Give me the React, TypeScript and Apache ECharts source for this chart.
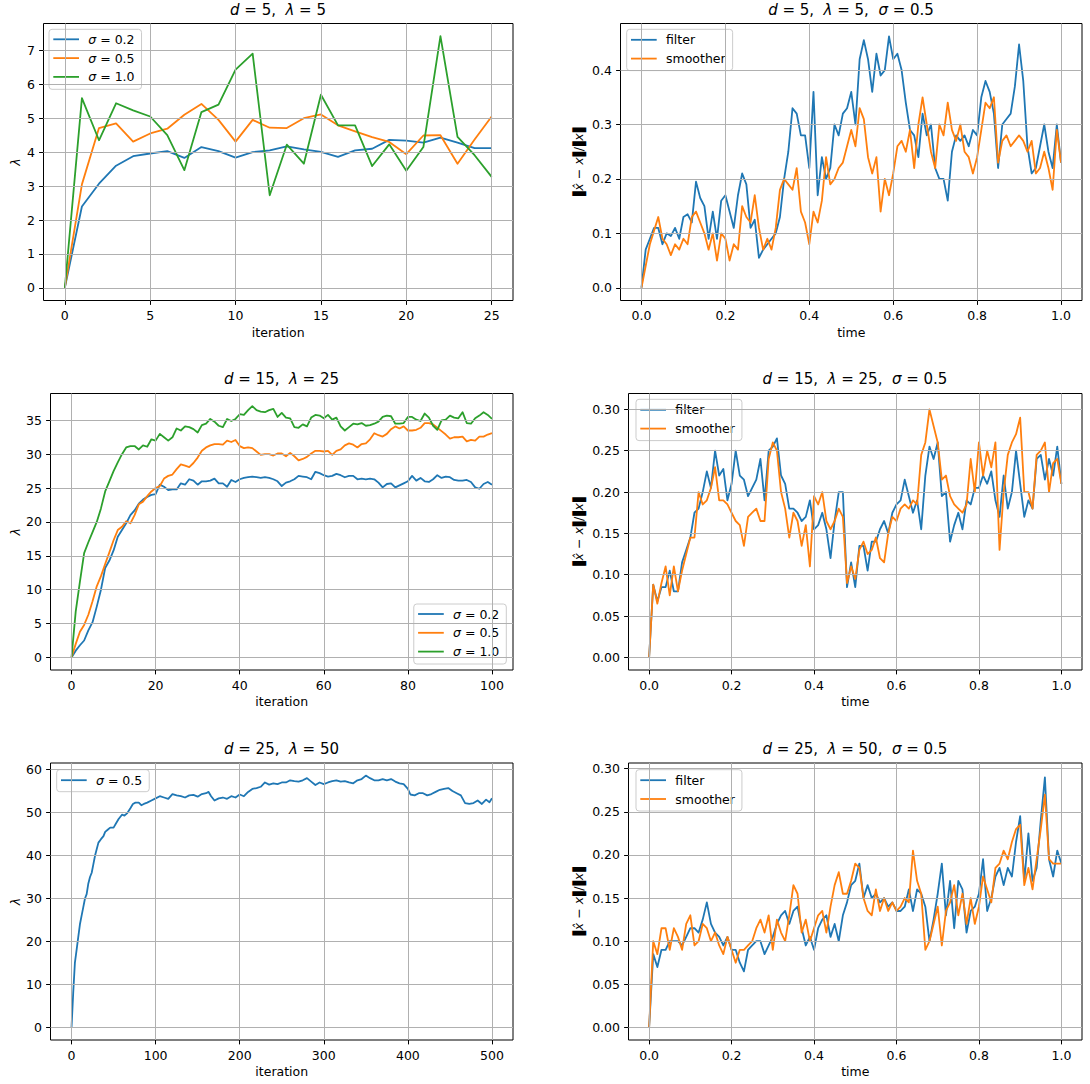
import React, { useEffect, useRef } from "react";
import * as echarts from "echarts";

// ---------------- data ----------------
// Panel: d = 5, lambda = 5 (iterations 0..25)
const ITER_A = [0, 1, 2, 3, 4, 5, 6, 7, 8, 9, 10, 11, 12, 13, 14, 15, 16, 17, 18, 19, 20, 21, 22, 23, 24, 25];
const LAM_A_S02 = [0, 2.4, 3.07, 3.6, 3.88, 3.96, 4.03, 3.83, 4.15, 4.03, 3.84, 4.0, 4.05, 4.17, 4.08, 4.01, 3.86, 4.05, 4.1, 4.36, 4.34, 4.28, 4.43, 4.28, 4.12, 4.12];
const LAM_A_S05 = [0, 3.05, 4.71, 4.85, 4.31, 4.55, 4.69, 5.1, 5.42, 4.95, 4.31, 4.95, 4.72, 4.71, 5.0, 5.11, 4.79, 4.61, 4.44, 4.3, 3.94, 4.49, 4.5, 3.66, 4.37, 5.05];
const LAM_A_S10 = [0, 5.59, 4.35, 5.44, 5.23, 5.05, 4.5, 3.47, 5.18, 5.4, 6.43, 6.9, 2.73, 4.22, 3.66, 5.69, 4.79, 4.79, 3.59, 4.23, 3.45, 4.15, 7.42, 4.45, 3.91, 3.27];

// Panel: d = 15, lambda = 25 (iterations 0..100)
const ITER_B = Array.from({ length: 101 }, (_, i) => i);
const LAM_B_S02 = [
  0, 1, 1.8, 2.5, 4, 5.2, 7.5, 10, 13.2, 14.3,
  15.8, 17.8, 18.8, 19.8, 21, 21.7, 22.7, 23.3, 23.7, 24.0,
  24.1, 25.5, 25.2, 24.7, 24.8, 24.8, 25.7, 25.5, 26.3, 26.1,
  25.5, 26.0, 26.0, 26.1, 26.4, 25.7, 25.7, 25.2, 26.2, 25.9,
  26.3, 26.5, 26.6, 26.7, 26.6, 26.5, 26.6, 26.5, 26.3, 26.0,
  25.3, 25.8, 26.0, 26.3, 26.8, 26.7, 26.6, 26.3, 27.4, 27.2,
  26.9, 26.7, 26.8, 27.1, 26.9, 26.6, 26.8, 26.8, 26.3, 26.4,
  26.3, 26.4, 26.3, 25.8, 25.1, 25.6, 25.7, 25.1, 25.4, 25.7,
  26.0, 26.8, 26.1, 26.5, 26.0, 25.9, 26.3, 26.9, 26.5, 26.7,
  26.6, 26.2, 26.1, 26.1, 26.2, 25.9, 25.1, 24.9, 25.6, 25.9,
  25.5,
];
const LAM_B_S05 = [
  0, 2, 3.8, 4.8, 6.3, 8.3, 10.5, 12, 13.8, 15.5,
  17.3, 18.8, 19.3, 20.1, 19.8, 21.0, 22.6, 23.0, 23.8, 24.5,
  25.0, 25.3, 26.4, 26.8, 27.0, 27.8, 28.5, 28.3, 28.1, 28.7,
  29.5, 30.5, 31.0, 31.3, 31.5, 31.5, 31.4, 32.0, 31.8, 32.1,
  31.2, 30.9, 31.0, 30.9, 30.4, 29.9, 30.0, 30.0, 29.8, 30.1,
  30.1, 29.7, 30.2, 29.7, 29.1, 29.3, 29.6, 30.1, 30.5, 30.5,
  30.4, 30.5, 29.9, 30.5, 30.7, 31.3, 31.6, 31.4, 31.0, 31.5,
  31.6, 32.2, 33.1, 32.8, 32.6, 33.0, 33.7, 34.1, 33.8, 34.1,
  33.5, 33.5, 33.6, 33.9, 34.6, 34.6, 34.4, 33.9, 33.4, 32.9,
  32.3, 32.5, 32.5, 32.6, 31.9, 32.1, 32.0, 32.6, 32.6, 32.9,
  33.1,
];
const LAM_B_S10 = [
  0, 6.8, 11.2, 15.4, 17, 18.5, 20, 22, 24.5, 26,
  27.5, 28.8, 30, 31, 31.2, 31.2, 30.7, 31.3, 31.1, 32.2,
  32.0, 33.0, 32.5, 32.0, 32.5, 33.8, 33.5, 34.1, 34.0, 33.7,
  33.2, 34.3, 34.5, 35.2, 34.8, 34.2, 34.0, 35.2, 34.9, 35.2,
  35.9, 35.8, 36.5, 37.1, 36.5, 36.3, 36.2, 36.5, 36.7, 35.5,
  36.1, 35.4, 35.3, 34.0, 33.9, 34.4, 34.1, 35.4, 35.8, 35.7,
  35.3, 35.8, 35.1, 35.4, 34.1, 33.5, 34.0, 34.5, 34.4, 34.6,
  34.2, 34.3, 34.5, 34.8, 35.5, 35.7, 35.6, 34.5, 34.5, 34.6,
  35.5, 35.5, 35.1, 34.9, 36.0, 35.4, 34.2, 33.6, 35.0, 35.1,
  35.7, 35.4, 35.3, 36.2, 34.6, 34.5, 35.3, 35.7, 36.2, 35.8,
  35.2,
];

// Panel: d = 25, lambda = 50 (iterations 0..500, read at irregular steps)
const ITER_C = [
  0, 2, 4, 6, 8, 10, 12, 14, 16, 18, 20, 22, 24, 26, 28, 30, 32, 35, 38, 40, 43, 46, 50, 53, 56, 60, 63, 66, 70, 73, 76, 80, 83, 86, 90, 95,
  100, 105, 110, 115, 120, 125, 130, 135, 140, 145, 150, 155, 160, 163, 166, 170, 175, 180, 185, 190, 195,
  200, 205, 210, 215, 220, 225, 230, 235, 240, 245, 250, 255, 260, 265, 270, 275, 280, 285, 290, 295,
  300, 305, 310, 315, 320, 325, 330, 335, 340, 345, 350, 355, 360, 365, 370, 375, 380, 385, 390, 395,
  400, 403, 408, 413, 418, 423, 428, 433, 438, 443, 448, 453, 458, 463, 468, 473, 478, 483, 488, 493, 497, 500,
];
const LAM_C_S05 = [
  0, 8, 15, 18, 21, 24, 26, 28, 30, 31, 33.5, 35, 36, 38, 40, 41.5, 43, 43.8, 44.5, 45.5, 46, 46.5, 46.5, 47.5, 48.5, 49.5, 49.3, 49.8, 51, 52, 52.3, 52.3, 51.7, 52, 52.3, 52.8,
  53.3, 53.8, 53.5, 53.2, 54.3, 54, 53.8, 53.5, 54, 54.1, 53.7, 54.3, 54.5, 54.8, 53.8, 52.8, 53.3, 53.5, 53.2, 53.8, 53.5,
  54.2, 53.8, 54.8, 55.5, 55.7, 56, 57, 56.5, 56.8, 56.6, 57, 57, 57.5, 57.3, 57.2, 57.5, 58, 57.2, 56.4, 57,
  56.6, 57, 57.3, 57.5, 57.2, 57.3, 57, 56.8, 57.5, 57.8, 58.6, 58, 57.5, 57.5, 57.8, 57.5, 57.8, 57.2, 56.8, 56.6,
  55.5, 54.2, 54, 54.5, 54.5, 54, 54.3, 54.8, 55.3, 55.5, 55.7, 55, 54.5, 54, 52.2, 52, 52.2, 52.8, 52, 53, 52.4, 53.3,
];

// Relative error panels, time 0..1 read every 0.01
const TIME = Array.from({ length: 101 }, (_, i) => i / 100);
const FILTER_A = [
  0, 0.07, 0.09, 0.11, 0.11, 0.08, 0.1, 0.095, 0.11, 0.09,
  0.13, 0.135, 0.12, 0.195, 0.165, 0.15, 0.09, 0.14, 0.09, 0.16,
  0.17, 0.14, 0.11, 0.17, 0.21, 0.19, 0.11, 0.125, 0.055, 0.07,
  0.08, 0.09, 0.1, 0.13, 0.2, 0.25, 0.33, 0.32, 0.28, 0.28,
  0.22, 0.36, 0.17, 0.24, 0.2, 0.22, 0.3, 0.28, 0.32, 0.33,
  0.36, 0.3, 0.42, 0.455, 0.42, 0.36, 0.43, 0.39, 0.4, 0.462,
  0.42, 0.43, 0.4, 0.34, 0.29, 0.28, 0.24, 0.32, 0.28, 0.3,
  0.22, 0.2, 0.2, 0.16, 0.25, 0.28, 0.27, 0.28, 0.26, 0.29,
  0.28, 0.35, 0.38, 0.36, 0.32, 0.22, 0.3, 0.31, 0.32, 0.37,
  0.447, 0.38, 0.26, 0.21, 0.22, 0.26, 0.3, 0.25, 0.22, 0.3,
  0.23,
];
const SMOOTHER_A = [
  0, 0.04, 0.08, 0.105, 0.13, 0.09, 0.08, 0.06, 0.08, 0.07,
  0.09, 0.08, 0.13, 0.14, 0.12, 0.1, 0.07, 0.1, 0.05, 0.1,
  0.09, 0.05, 0.08, 0.07, 0.15, 0.13, 0.12, 0.17, 0.11, 0.07,
  0.09, 0.07, 0.11, 0.18, 0.2, 0.19, 0.18, 0.22, 0.14, 0.12,
  0.08, 0.14, 0.12, 0.16, 0.24, 0.19, 0.2, 0.22, 0.23, 0.26,
  0.29, 0.26, 0.33, 0.31, 0.24, 0.21, 0.24, 0.14, 0.2, 0.17,
  0.21, 0.26, 0.27, 0.25, 0.29, 0.22, 0.3, 0.35, 0.3, 0.25,
  0.22, 0.3, 0.28, 0.34, 0.29, 0.27, 0.3, 0.25, 0.24, 0.21,
  0.24, 0.29, 0.34, 0.33, 0.35, 0.23, 0.27, 0.28, 0.26, 0.27,
  0.28, 0.27, 0.25, 0.27, 0.21, 0.22, 0.25, 0.22, 0.18, 0.29,
  0.23,
];
const FILTER_B = [
  0, 0.088, 0.068, 0.085, 0.085, 0.105, 0.08, 0.08, 0.115, 0.13,
  0.145, 0.175, 0.18, 0.2, 0.225, 0.205, 0.25, 0.22, 0.228, 0.19,
  0.21, 0.25, 0.22, 0.215, 0.195, 0.205, 0.215, 0.24, 0.19, 0.25,
  0.255, 0.265, 0.22, 0.21, 0.18, 0.18, 0.175, 0.165, 0.17, 0.19,
  0.155, 0.16, 0.175, 0.155, 0.12, 0.165, 0.2, 0.2, 0.085, 0.115,
  0.085, 0.135, 0.135, 0.105, 0.14, 0.14, 0.155, 0.165, 0.15, 0.175,
  0.185, 0.19, 0.215, 0.195, 0.175, 0.19, 0.155, 0.22, 0.255, 0.24,
  0.26, 0.195, 0.2, 0.14, 0.16, 0.175, 0.155, 0.19, 0.185, 0.205,
  0.205, 0.22, 0.21, 0.225, 0.19, 0.17, 0.22, 0.18, 0.2, 0.25,
  0.21, 0.17, 0.19, 0.18, 0.24, 0.245, 0.215, 0.24, 0.22, 0.255,
  0.21,
];
const SMOOTHER_B = [
  0, 0.088, 0.065, 0.09, 0.11, 0.075, 0.11, 0.08, 0.105, 0.125,
  0.145, 0.145, 0.2, 0.185, 0.19, 0.205, 0.23, 0.19, 0.19, 0.185,
  0.175, 0.165, 0.16, 0.135, 0.17, 0.175, 0.18, 0.165, 0.165, 0.24,
  0.26, 0.25, 0.2, 0.18, 0.145, 0.175, 0.165, 0.135, 0.16, 0.11,
  0.195, 0.185, 0.2, 0.165, 0.155, 0.165, 0.18, 0.17, 0.09, 0.11,
  0.095, 0.13, 0.14, 0.125, 0.13, 0.145, 0.12, 0.115, 0.15, 0.17,
  0.165, 0.18, 0.185, 0.18, 0.19, 0.185, 0.245, 0.26, 0.3, 0.28,
  0.26, 0.215, 0.22, 0.195, 0.185, 0.18, 0.175, 0.185, 0.24, 0.2,
  0.26, 0.22, 0.25, 0.23, 0.26, 0.13, 0.2, 0.245, 0.26, 0.27,
  0.29, 0.2, 0.2, 0.18, 0.245, 0.25, 0.26, 0.2, 0.235, 0.24,
  0.21,
];
const FILTER_C = [
  0, 0.085, 0.07, 0.09, 0.09, 0.1, 0.1, 0.1, 0.095, 0.105,
  0.115, 0.115, 0.11, 0.125, 0.145, 0.12, 0.11, 0.105, 0.095, 0.105,
  0.09, 0.09, 0.075, 0.065, 0.09, 0.095, 0.1, 0.1, 0.085, 0.095,
  0.105, 0.12, 0.13, 0.135, 0.12, 0.135, 0.14, 0.115, 0.095, 0.105,
  0.09, 0.115, 0.125, 0.13, 0.105, 0.12, 0.1, 0.13, 0.145, 0.165,
  0.17, 0.19, 0.15, 0.165, 0.15, 0.155, 0.145, 0.15, 0.14, 0.145,
  0.135, 0.135, 0.14, 0.16, 0.135, 0.16, 0.155, 0.14, 0.1, 0.125,
  0.155, 0.19, 0.13, 0.17, 0.115, 0.17, 0.16, 0.11, 0.135, 0.14,
  0.155, 0.195, 0.135, 0.15, 0.175, 0.185, 0.165, 0.185, 0.175, 0.215,
  0.245, 0.17, 0.225, 0.17, 0.185, 0.24, 0.29, 0.195, 0.175, 0.205,
  0.19,
];
const SMOOTHER_C = [
  0, 0.1, 0.085, 0.115, 0.115, 0.09, 0.115, 0.105, 0.09, 0.12,
  0.13, 0.095, 0.1, 0.12, 0.115, 0.1, 0.11, 0.095, 0.085, 0.105,
  0.09, 0.075, 0.09, 0.09, 0.095, 0.1, 0.115, 0.125, 0.11, 0.13,
  0.09, 0.125, 0.11, 0.1, 0.13, 0.165, 0.155, 0.11, 0.125, 0.1,
  0.115, 0.13, 0.135, 0.11, 0.14, 0.165, 0.18, 0.155, 0.155, 0.17,
  0.19, 0.185, 0.15, 0.135, 0.13, 0.16, 0.135, 0.15, 0.135, 0.145,
  0.135, 0.14, 0.15, 0.145, 0.205, 0.17, 0.155, 0.09, 0.1, 0.12,
  0.14, 0.095, 0.135, 0.145, 0.165, 0.13, 0.155, 0.12, 0.15, 0.12,
  0.14, 0.175, 0.16, 0.145, 0.185, 0.19, 0.205, 0.195, 0.215, 0.23,
  0.235, 0.165, 0.185, 0.16, 0.195, 0.23, 0.27, 0.195, 0.19, 0.19,
  0.19,
];

// tick values
const TICKS_X_A = [0, 5, 10, 15, 20, 25];
const TICKS_Y_A = [0, 1, 2, 3, 4, 5, 6, 7];
const TICKS_X_B = [0, 20, 40, 60, 80, 100];
const TICKS_Y_B = [0, 5, 10, 15, 20, 25, 30, 35];
const TICKS_X_C = [0, 100, 200, 300, 400, 500];
const TICKS_Y_C = [0, 10, 20, 30, 40, 50, 60];
const TICKS_TIME = [0, 0.2, 0.4, 0.6, 0.8, 1.0];
const TICKS_ERR_A = [0, 0.1, 0.2, 0.3, 0.4];
const TICKS_ERR_BC = [0, 0.05, 0.1, 0.15, 0.2, 0.25, 0.3];

// ---------------- styling ----------------
const FONT = "DejaVu Sans";
const TXT = "#000000";
const BLUE = "#1f77b4";
const ORANGE = "#ff7f0e";
const GREEN = "#2ca02c";
const FS = 12.5;

function rich(size: number) {
  return {
    i: { fontStyle: "italic", fontSize: size, fontFamily: FONT, color: TXT, fill: TXT },
    b: {
      fontWeight: "bold",
      fontSize: size,
      fontFamily: FONT,
      color: TXT,
      fill: TXT,
      textBorderColor: TXT,
      textBorderWidth: 1.4,
    },
  };
}

const LABELS: Record<string, string> = {
  "a02": "{i|σ} = 0.2",
  "a05": "{i|σ} = 0.5",
  "a10": "{i|σ} = 1.0",
  "b02": "{i|σ} = 0.2",
  "b05": "{i|σ} = 0.5",
  "b10": "{i|σ} = 1.0",
  "c05": "{i|σ} = 0.5",
  "fa": "filter",
  "sa": "smoother",
  "fb": "filter",
  "sb": "smoother",
  "fc": "filter",
  "sc": "smoother",
};

const GRIDS = [
  { left: 43.5, top: 23.5, width: 469.5, height: 277 },
  { left: 620.5, top: 23.5, width: 461.5, height: 277 },
  { left: 50.5, top: 393.5, width: 462.5, height: 276.5 },
  { left: 628.5, top: 393.5, width: 453.5, height: 276.5 },
  { left: 50.5, top: 763, width: 462.5, height: 277 },
  { left: 628.5, top: 763, width: 453.5, height: 277 },
];

function xAxis(idx: number, min: number, max: number, ticks: number[], fmt: (v: number) => string, name: string) {
  return {
    type: "value",
    gridIndex: idx,
    min,
    max,
    name,
    nameLocation: "middle",
    nameGap: 25,
    nameTextStyle: { fontSize: FS, fontFamily: FONT, color: TXT },
    axisLine: { show: false, onZero: false },
    axisTick: { show: true, length: 4.4, lineStyle: { color: TXT, width: 1 }, customValues: ticks },
    axisLabel: { customValues: ticks, formatter: fmt, margin: 8.5, fontSize: FS, fontFamily: FONT, color: TXT },
    splitLine: { show: false },
  };
}

function yAxis(idx: number, min: number, max: number, ticks: number[], fmt: (v: number) => string, name: string, gap: number) {
  return {
    type: "value",
    gridIndex: idx,
    min,
    max,
    name,
    nameLocation: "middle",
    nameGap: gap,
    nameRotate: 90,
    nameTextStyle: { fontSize: FS, fontFamily: FONT, color: TXT, rich: rich(FS) },
    axisLine: { show: false, onZero: false },
    axisTick: { show: true, length: 4.4, lineStyle: { color: TXT, width: 1 }, customValues: ticks },
    axisLabel: { customValues: ticks, formatter: fmt, margin: 8.5, fontSize: FS, fontFamily: FONT, color: TXT },
    splitLine: { show: false },
  };
}

function gridLines(idx: number, xt: number[], yt: number[]) {
  return {
    type: "line",
    name: "grid" + idx,
    xAxisIndex: idx,
    yAxisIndex: idx,
    data: [],
    z: 1,
    silent: true,
    markLine: {
      silent: true,
      symbol: ["none", "none"],
      label: { show: false },
      emphasis: { disabled: true },
      lineStyle: { color: "#b0b0b0", width: 1, type: "solid" },
      data: [...xt.map((v) => ({ xAxis: v })), ...yt.map((v) => ({ yAxis: v }))],
    },
  };
}

function line(name: string, idx: number, xs: number[], ys: number[], color: string) {
  return {
    type: "line",
    name,
    xAxisIndex: idx,
    yAxisIndex: idx,
    data: xs.map((x, i) => [x, ys[i]]),
    symbol: "none",
    showSymbol: false,
    lineStyle: { color, width: 1.8, join: "round" },
    itemStyle: { color },
    z: 3,
    silent: true,
    emphasis: { disabled: true },
  };
}

function legend(names: string[], pos: Record<string, number>, padding: number[]) {
  return {
    ...pos,
    orient: "vertical",
    data: names.map((n) => ({ name: n, icon: "rect" })),
    padding,
    itemGap: 2.8,
    itemWidth: 25.7,
    itemHeight: 1.8,
    backgroundColor: "rgba(255,255,255,0.8)",
    borderColor: "#cccccc",
    borderWidth: 1,
    borderRadius: 3,
    selectedMode: false,
    formatter: (n: string) => LABELS[n] || n,
    textStyle: { fontSize: FS, fontFamily: FONT, color: TXT, lineHeight: 16, padding: [0, 0, 0, 4.3], rich: rich(FS) },
  };
}

const f0 = (v: number) => String(Math.round(v));
const f1 = (v: number) => v.toFixed(1);
const f2 = (v: number) => v.toFixed(2);

const ERR_NAME = "{b|‖}{i|x̂} − {i|x}{b|‖}/{b|‖}{i|x}{b|‖}";

function title(text: string, x: number, y: number) {
  return {
    type: "text",
    x,
    y,
    silent: true,
    style: {
      text,
      align: "center",
      verticalAlign: "middle",
      fontSize: 15,
      fontFamily: FONT,
      fill: TXT,
      rich: rich(15),
    },
  };
}

export default function App() {
  const ref = useRef<HTMLDivElement>(null);
  useEffect(() => {
    if (!ref.current) return;
    const chart = echarts.init(ref.current, undefined, { renderer: "svg" });
    const option: any = {
      animation: false,
      backgroundColor: "#ffffff",
      textStyle: { fontFamily: FONT },
      grid: GRIDS.map((g) => ({ ...g, show: true, borderColor: "#000000", borderWidth: 1, backgroundColor: "transparent", containLabel: false })),
      xAxis: [
        xAxis(0, -1.25, 26.25, TICKS_X_A, f0, "iteration"),
        xAxis(1, -0.05, 1.05, TICKS_TIME, f1, "time"),
        xAxis(2, -5, 105, TICKS_X_B, f0, "iteration"),
        xAxis(3, -0.05, 1.05, TICKS_TIME, f1, "time"),
        xAxis(4, -25, 525, TICKS_X_C, f0, "iteration"),
        xAxis(5, -0.05, 1.05, TICKS_TIME, f1, "time"),
      ],
      yAxis: [
        yAxis(0, -0.371, 7.79, TICKS_Y_A, f0, "{i|λ}", 22),
        yAxis(1, -0.0234, 0.4856, TICKS_ERR_A, f1, ERR_NAME, 36),
        yAxis(2, -1.855, 38.96, TICKS_Y_B, f0, "{i|λ}", 28.5),
        yAxis(3, -0.0152, 0.3192, TICKS_ERR_BC, f2, ERR_NAME, 43.5),
        yAxis(4, -2.93, 61.53, TICKS_Y_C, f0, "{i|λ}", 28.5),
        yAxis(5, -0.0146, 0.3066, TICKS_ERR_BC, f2, ERR_NAME, 43.5),
      ],
      legend: [
        legend(["a02", "a05", "a10"], { left: 49, top: 29.3 }, [2, 7, 4.4, 4.3]),
        legend(["fa", "sa"], { left: 626.7, top: 29.3 }, [2.5, 7, 4, 4.3]),
        legend(["b02", "b05", "b10"], { right: 583.7, top: 604 }, [2, 7, 4.4, 4.3]),
        legend(["fb", "sb"], { left: 636, top: 399.3 }, [2.5, 7, 4, 4.3]),
        legend(["c05"], { left: 56.7, top: 769.7 }, [2.5, 7, 3.5, 4.3]),
        legend(["fc", "sc"], { left: 636, top: 769.7 }, [2.5, 7, 4, 4.3]),
      ],
      graphic: [
        title("{i|d} = 5,  {i|λ} = 5", 278, 10),
        title("{i|d} = 5,  {i|λ} = 5,  {i|σ} = 0.5", 851, 10),
        title("{i|d} = 15,  {i|λ} = 25", 281.5, 379),
        title("{i|d} = 15,  {i|λ} = 25,  {i|σ} = 0.5", 855, 379),
        title("{i|d} = 25,  {i|λ} = 50", 281.5, 749),
        title("{i|d} = 25,  {i|λ} = 50,  {i|σ} = 0.5", 855, 749),
      ],
      series: [
        gridLines(0, TICKS_X_A, TICKS_Y_A),
        gridLines(1, TICKS_TIME, TICKS_ERR_A),
        gridLines(2, TICKS_X_B, TICKS_Y_B),
        gridLines(3, TICKS_TIME, TICKS_ERR_BC),
        gridLines(4, TICKS_X_C, TICKS_Y_C),
        gridLines(5, TICKS_TIME, TICKS_ERR_BC),
        line("a02", 0, ITER_A, LAM_A_S02, BLUE),
        line("a05", 0, ITER_A, LAM_A_S05, ORANGE),
        line("a10", 0, ITER_A, LAM_A_S10, GREEN),
        line("fa", 1, TIME, FILTER_A, BLUE),
        line("sa", 1, TIME, SMOOTHER_A, ORANGE),
        line("b02", 2, ITER_B, LAM_B_S02, BLUE),
        line("b05", 2, ITER_B, LAM_B_S05, ORANGE),
        line("b10", 2, ITER_B, LAM_B_S10, GREEN),
        line("fb", 3, TIME, FILTER_B, BLUE),
        line("sb", 3, TIME, SMOOTHER_B, ORANGE),
        line("c05", 4, ITER_C, LAM_C_S05, BLUE),
        line("fc", 5, TIME, FILTER_C, BLUE),
        line("sc", 5, TIME, SMOOTHER_C, ORANGE),
      ],
    };
    chart.setOption(option);
    return () => chart.dispose();
  }, []);
  return (
    <div
      ref={ref}
      style={{ position: "absolute", left: 0, top: 0, width: 1090, height: 1084, background: "#ffffff" }}
    />
  );
}
